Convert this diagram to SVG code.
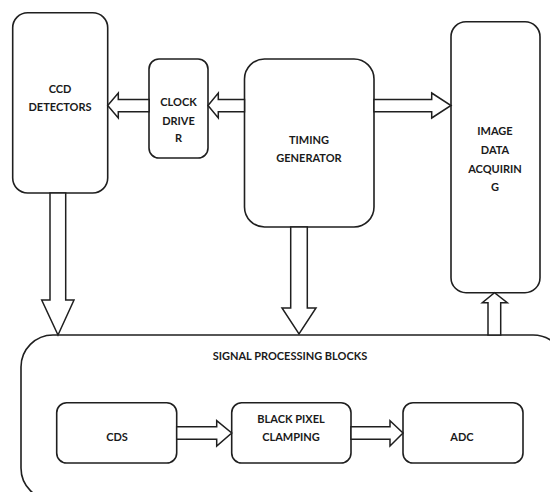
<svg xmlns="http://www.w3.org/2000/svg" width="550" height="492" viewBox="0 0 550 492">
  <style>
    .box { fill: #ffffff; stroke: #1f1f1f; stroke-width: 1.6; }
    .arrow { fill: #ffffff; stroke: #1f1f1f; stroke-width: 1.5; stroke-linejoin: miter; }
    .label { font-family: Lato, "Open Sans", "Liberation Sans", sans-serif; font-weight: bold; font-size: 11px; fill: #1a1a1a; text-anchor: middle; }
  </style>
  <rect width="550" height="492" fill="#ffffff"/>

  <!-- outer processing container -->
  <g id="signal-processing">
    <rect class="box" x="21" y="335" width="544" height="165" rx="32" ry="32"/>
    <text class="label" x="290" y="359.5">SIGNAL PROCESSING BLOCKS</text>
  </g>

  <g id="ccd-detectors">
    <rect class="box" x="12.7" y="12.7" width="95" height="180.3" rx="15" ry="15"/>
    <text class="label" x="60" y="93">CCD</text>
    <text class="label" x="60" y="111">DETECTORS</text>
  </g>

  <g id="clock-driver">
    <rect class="box" x="149" y="59" width="59" height="99" rx="10" ry="10"/>
    <text class="label" x="178.5" y="106">CLOCK</text>
    <text class="label" x="178.5" y="125">DRIVE</text>
    <text class="label" x="178.5" y="142">R</text>
  </g>

  <g id="timing-generator">
    <rect class="box" x="244.5" y="59" width="129.5" height="168" rx="20" ry="20"/>
    <text class="label" x="309" y="143.5">TIMING</text>
    <text class="label" x="309" y="161.5">GENERATOR</text>
  </g>

  <g id="image-data-acquiring">
    <rect class="box" x="451" y="21.7" width="89" height="271" rx="15" ry="15"/>
    <text class="label" x="495" y="135">IMAGE</text>
    <text class="label" x="495" y="154">DATA</text>
    <text class="label" x="495" y="173">ACQUIRIN</text>
    <text class="label" x="495" y="191">G</text>
  </g>

  <g id="cds">
    <rect class="box" x="56.7" y="402.7" width="120" height="60.3" rx="10" ry="10"/>
    <text class="label" x="117" y="441">CDS</text>
  </g>

  <g id="black-pixel-clamping">
    <rect class="box" x="231.7" y="402.7" width="119.3" height="60.3" rx="10" ry="10"/>
    <text class="label" x="291" y="423">BLACK PIXEL</text>
    <text class="label" x="291" y="441">CLAMPING</text>
  </g>

  <g id="adc">
    <rect class="box" x="403" y="402.7" width="120" height="60.3" rx="10" ry="10"/>
    <text class="label" x="462" y="441">ADC</text>
  </g>

  <!-- block arrows -->
  <g id="connectors">
    <polygon class="arrow" points="149,99.5 118.3,99.5 118.3,93 107.7,105.5 118.3,118 118.3,111.7 149,111.7"/>
    <polygon class="arrow" points="244.5,99.5 218.3,99.5 218.3,93 208,105.5 218.3,118 218.3,111.7 244.5,111.7"/>
    <polygon class="arrow" points="374,99.5 431.7,99.5 431.7,93 451,105.5 431.7,118 431.7,111.7 374,111.7"/>
    <polygon class="arrow" points="50,193 50,300 41.7,300 58,335 74,300 65.7,300 65.7,193"/>
    <polygon class="arrow" points="290.7,227 290.7,308 282,308 299,334 316,308 307.3,308 307.3,227"/>
    <polygon class="arrow" points="488,335 488,302.7 482.3,302.7 494.5,292.7 507.3,302.7 500.7,302.7 500.7,335"/>
    <polygon class="arrow" points="176.7,426.7 216.7,426.7 216.7,420.7 231.7,433 216.7,446 216.7,439.3 176.7,439.3"/>
    <polygon class="arrow" points="351,426.7 390,426.7 390,420.7 403,433 390,446 390,439.3 351,439.3"/>
  </g>
</svg>
